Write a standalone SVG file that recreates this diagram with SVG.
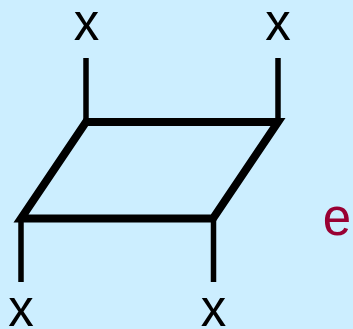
<svg xmlns="http://www.w3.org/2000/svg" width="353" height="329" viewBox="0 0 353 329">
<style>
.leg{stroke:#000;stroke-width:5.5;fill:none;stroke-linecap:butt}
.box{stroke:#000;stroke-width:8;fill:none;stroke-linejoin:miter;stroke-miterlimit:10}
.lbl{font-family:"Liberation Sans",Arial,sans-serif;font-size:51px;fill:#000;text-anchor:middle}
.e{font-family:"Liberation Sans",Arial,sans-serif;font-size:51px;fill:#990033;text-anchor:middle}
</style>
<rect width="353" height="329" fill="#cceeff"/>
<g id="connectors">
<polygon class="box" points="86,122 278,122 213,218.5 21,218.5"/>
<line class="leg" x1="86" y1="58" x2="86" y2="122"/>
<line class="leg" x1="278" y1="58" x2="278" y2="122"/>
<line class="leg" x1="21" y1="218.5" x2="21" y2="282"/>
<line class="leg" x1="213.5" y1="218.5" x2="213.5" y2="282"/>
</g>
<g id="x-top-left"><text class="lbl" x="86.5" y="40">x</text></g>
<g id="x-top-right"><text class="lbl" x="278" y="40">x</text></g>
<g id="x-bottom-left"><text class="lbl" x="21" y="325.5">x</text></g>
<g id="x-bottom-right"><text class="lbl" x="213.5" y="325.5">x</text></g>
<g id="e-label"><text class="e" x="337" y="235">e</text></g>
</svg>
